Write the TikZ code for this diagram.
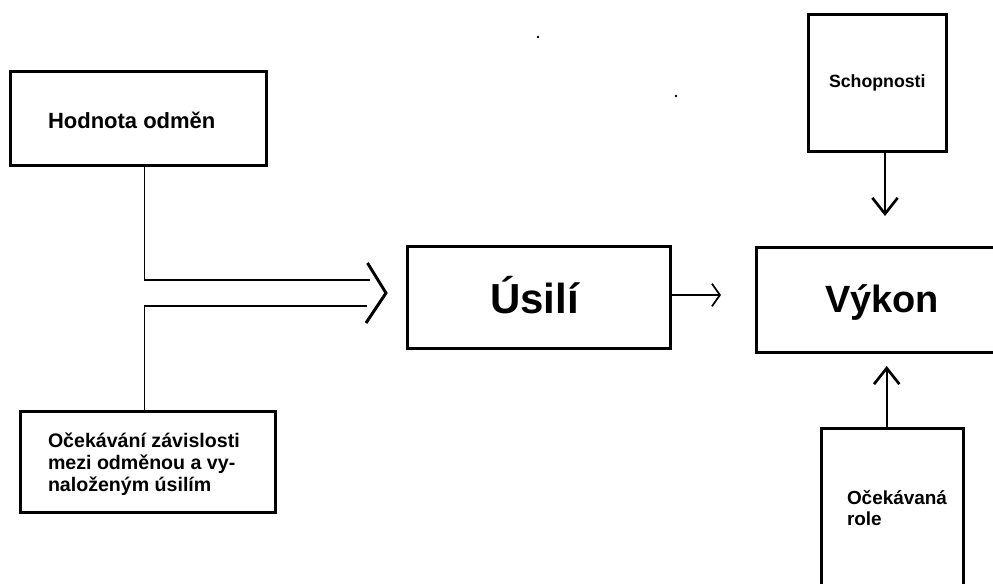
\documentclass[tikz,border=0pt]{standalone}
\usepackage{fontspec}
\setmainfont{Liberation Sans}
\usetikzlibrary{arrows.meta}
\begin{document}
\begin{tikzpicture}[x=0.75pt,y=-0.75pt,
  box/.style={draw,line width=2.25pt,inner sep=0pt,outer sep=0pt},
  lbl/.style={inner sep=0pt,outer sep=0pt,anchor=base west,font=\bfseries},
  conn/.style={line width=1.3pt},
  barb/.style={line width=1.3pt,-{Straight Barb[length=12pt,width=19pt,line width=2pt]}},
  smallbarb/.style={line width=1.1pt,-{Straight Barb[length=6pt,width=17pt,line width=1.3pt]}}]
\clip (0,0) rectangle (993,583);
\fill[white] (0,0) rectangle (993,583);

% boxes
\node[box,minimum width=256*0.75pt,minimum height=94*0.75pt] (hod) at (138,118) {};
\node[box,minimum width=255*0.75pt,minimum height=101.3*0.75pt] (oce) at (148.2,462.3) {};
\node[box,minimum width=263.4*0.75pt,minimum height=101.6*0.75pt] (usi) at (539,297.5) {};
\node[box,minimum width=284*0.75pt,minimum height=105*0.75pt] (vyk) at (898,299.8) {};
\node[box,minimum width=137.7*0.75pt,minimum height=136.7*0.75pt] (sch) at (877.2,83.3) {};
\node[box,minimum width=142.3*0.75pt,minimum height=191.7*0.75pt] (rol) at (892.2,524) {};

% labels
\node[lbl,font=\bfseries\fontsize{16.5pt}{19pt}\selectfont] (thod) at (48,128) {Hodnota odměn};
\node[lbl,font=\bfseries\fontsize{14.7pt}{16.5pt}\selectfont] (toce1) at (48,447) {Očekávání závislosti};
\node[lbl,font=\bfseries\fontsize{14.7pt}{16.5pt}\selectfont] (toce2) at (48,469) {mezi odměnou a vy-};
\node[lbl,font=\bfseries\fontsize{14.7pt}{16.5pt}\selectfont] (toce3) at (48,491) {naloženým úsilím};
\node[lbl,font=\bfseries\fontsize{31.5pt}{36pt}\selectfont] (tusi) at (490,313) {Úsilí};
\node[lbl,font=\bfseries\fontsize{28.5pt}{34pt}\selectfont] (tvyk) at (825,312) {Výkon};
\node[lbl,font=\bfseries\fontsize{13.3pt}{16pt}\selectfont] (tsch) at (829,87) {Schopnosti};
\node[lbl,font=\bfseries\fontsize{14.2pt}{16pt}\selectfont] (trol1) at (847,504) {Očekávaná};
\node[lbl,font=\bfseries\fontsize{14.2pt}{16pt}\selectfont] (trol2) at (847,525) {role};

% double arrow into the effort box
\coordinate (j1) at (144.5,280);
\coordinate (e1) at (370,280);
\coordinate (j2) at (144.5,306);
\coordinate (e2) at (367,306);
\draw[conn] (hod.south -| j1) |- (e1);
\draw[conn] (e2) -| (oce.north -| j2);
\coordinate (ch1) at (367.5,263);
\coordinate (ch2) at (386,293);
\coordinate (ch3) at (366,323);
\draw[line width=2.2pt] (ch1) -- (ch2) -- (ch3);

% effort -> performance
\coordinate (a1) at (721,295);
\draw[smallbarb] (usi.east |- a1) -- (a1);

% abilities -> performance
\coordinate (a2) at (885,216);
\draw[barb] (sch.south -| a2) -- (a2);

% role -> performance
\coordinate (a3) at (886.7,366);
\draw[barb] (rol.north -| a3) -- (a3);

% specks
\fill (538,37) circle (1.3);
\fill (676,96) circle (1.3);
\end{tikzpicture}
\end{document}
